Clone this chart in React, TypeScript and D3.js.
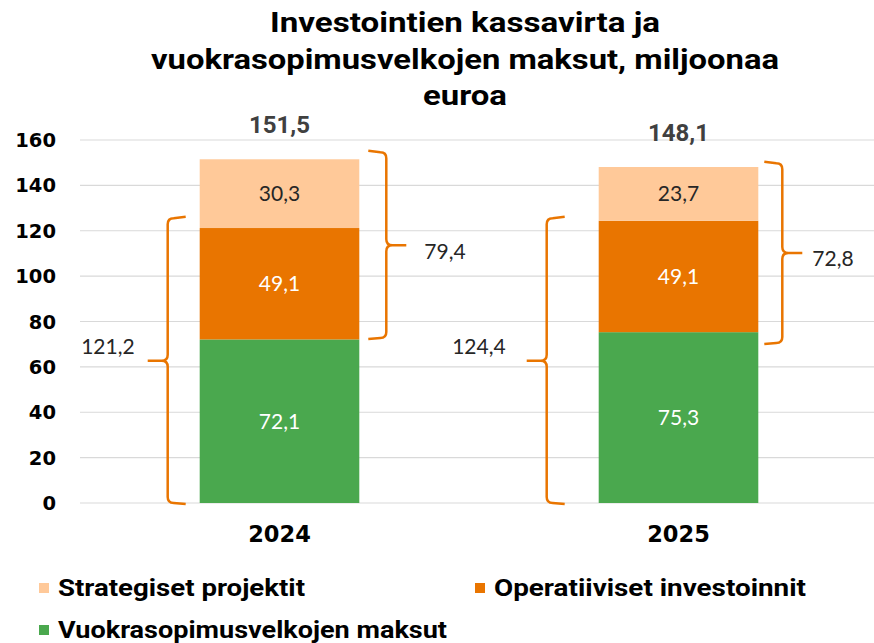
import React from "react";
import * as d3 from "d3";

const years = ["2024", "2025"];
const seriesNames = ["Vuokrasopimusvelkojen maksut", "Operatiiviset investoinnit", "Strategiset projektit"];
const leaseValues = [72.1, 75.3];
const operativeValues = [49.1, 49.1];
const strategicValues = [30.3, 23.7];
const totalLabels = ["151,5", "148,1"];
const yTicks = [0, 20, 40, 60, 80, 100, 120, 140, 160];
const titleLines = ["Investointien kassavirta ja", "vuokrasopimusvelkojen maksut, miljoonaa", "euroa"];
// bracket annotations: [from, to] in value units and their labels
const leftBracketSpans = [[0, 125.5], [0, 125.5]];
const leftBracketLabels = ["121,2", "124,4"];
const rightBracketSpans = [[72.7, 154.6], [70.5, 149.8]];
const rightBracketLabels = ["79,4", "72,8"];

const COLORS = ["#4AA84E", "#E97500", "#FFC999"];
const LABEL_COLORS = ["#ffffff", "#ffffff", "#262626"];
const BRACKET = "#E97500";

// layout offsets for brackets relative to bar edges
const leftOffsets = [32, 52];
const rightOffsets = [27, 24];
const leftLabelGap = [33, 41];
const rightLabelGap = [38, 30];
const titleWidths = [390, 628, 84];
const legendWidths = [389, 312, 247];

const W = 874;
const H = 643;

function fmt(v: number) {
  return v.toFixed(1).replace(".", ",");
}

function bracePath(xv: number, yTop: number, yBot: number, dir: number) {
  const e = -dir;
  const yMid = (yTop + yBot) / 2;
  const arm = 18;
  const r = 6;
  return [
    `M ${xv + e * arm} ${yTop - 1.5}`,
    `L ${xv + e * r} ${yTop}`,
    `Q ${xv} ${yTop} ${xv} ${yTop + r}`,
    `L ${xv} ${yMid - r}`,
    `Q ${xv} ${yMid} ${xv + dir * r} ${yMid}`,
    `L ${xv + dir * 20} ${yMid}`,
    `M ${xv + dir * r} ${yMid}`,
    `Q ${xv} ${yMid} ${xv} ${yMid + r}`,
    `L ${xv} ${yBot - r}`,
    `Q ${xv} ${yBot} ${xv + e * r} ${yBot}`,
    `L ${xv + e * arm} ${yBot + 1}`,
  ].join(" ");
}

export default function App() {
  const y = d3.scaleLinear().domain([0, 160]).range([503, 140]);
  const x = d3.scaleBand().domain(years).range([80, 878]).paddingInner(0.6).paddingOuter(0.3);
  const bw = x.bandwidth();

  const rows = years.map((yr, i) => ({
    year: yr,
    lease: leaseValues[i],
    oper: operativeValues[i],
    strat: strategicValues[i],
  }));
  const stack = d3.stack<any>().keys(["lease", "oper", "strat"])(rows);

  const fontTitle = "Roboto, 'DejaVu Sans', sans-serif";
  const fontNum = "Lato, 'Open Sans', sans-serif";
  const fontWide = "'DejaVu Sans', Verdana, sans-serif";

  return (
    <svg width={W} height={H} style={{ position: "absolute", left: 0, top: 0, background: "#fff" }}>
      {/* title */}
      <g fontFamily={fontTitle} fontWeight={700} fontSize={28} fill="#000" textAnchor="middle">
        {titleLines.map((t, i) => (
          <text
            key={i}
            x={465}
            y={32 + i * 36.5}
            textLength={titleWidths[i]}
            lengthAdjust="spacingAndGlyphs"
          >
            {t}
          </text>
        ))}
      </g>

      {/* grid */}
      {yTicks.map((t) => (
        <line key={t} x1={80} x2={874} y1={y(t)} y2={y(t)} stroke="#d9d9d9" strokeWidth={1.2} />
      ))}
      {/* y tick labels */}
      <g fontFamily={fontWide} fontWeight={700} fontSize={19.5} fill="#000" textAnchor="end">
        {yTicks.map((t) => (
          <text key={t} x={56} y={y(t)} dy="0.36em">
            {t}
          </text>
        ))}
      </g>

      {/* bars */}
      {stack.map((s, si) => (
        <g key={si}>
          {s.map((d, i) => {
            const x0 = x(years[i])!;
            const top = y(d[1]);
            const bot = y(d[0]);
            return (
              <g key={i}>
                <rect x={x0} y={top} width={bw} height={bot - top} fill={COLORS[si]} />
                <text
                  x={x0 + bw / 2}
                  y={(top + bot) / 2}
                  dy="0.35em"
                  textAnchor="middle"
                  fontFamily={fontNum}
                  fontSize={21}
                  fontWeight={400}
                  fill={LABEL_COLORS[si]}
                >
                  {fmt(d[1] - d[0])}
                </text>
              </g>
            );
          })}
        </g>
      ))}

      {/* totals */}
      {rows.map((r, i) => (
        <text
          key={i}
          x={x(years[i])! + bw / 2}
          y={y(r.lease + r.oper + r.strat) - 35}
          dy="0.36em"
          textAnchor="middle"
          fontFamily={fontTitle}
          fontWeight={700}
          fontSize={24}
          fill="#404040"
        >
          {totalLabels[i]}
        </text>
      ))}

      {/* x labels */}
      {years.map((yr) => (
        <text
          key={yr}
          x={x(yr)! + bw / 2}
          y={534}
          dy="0.36em"
          textAnchor="middle"
          fontFamily={fontWide}
          fontWeight={700}
          fontSize={22.5}
          fill="#000"
        >
          {yr}
        </text>
      ))}

      {/* brackets */}
      {years.map((yr, i) => {
        const x0 = x(yr)!;
        const xvL = x0 - leftOffsets[i];
        const xvR = x0 + bw + rightOffsets[i];
        const [la, lb] = leftBracketSpans[i];
        const [ra, rb] = rightBracketSpans[i];
        const lTop = y(lb),
          lBot = y(la);
        const rTop = y(rb),
          rBot = y(ra);
        return (
          <g key={yr}>
            <path d={bracePath(xvL, lTop, lBot, -1)} fill="none" stroke={BRACKET} strokeWidth={2.5} />
            <path d={bracePath(xvR, rTop, rBot, 1)} fill="none" stroke={BRACKET} strokeWidth={2.5} />
            <text
              x={xvL - leftLabelGap[i]}
              y={(lTop + lBot) / 2 - 14}
              dy="0.35em"
              textAnchor="end"
              fontFamily={fontNum}
              fontSize={21}
              fill="#262626"
            >
              {leftBracketLabels[i]}
            </text>
            <text
              x={xvR + rightLabelGap[i]}
              y={(rTop + rBot) / 2 + 6}
              dy="0.35em"
              textAnchor="start"
              fontFamily={fontNum}
              fontSize={21}
              fill="#262626"
            >
              {rightBracketLabels[i]}
            </text>
          </g>
        );
      })}

      {/* legend */}
      <g fontFamily={fontTitle} fontWeight={700} fontSize={23} fill="#000">
        {[
          { name: seriesNames[2], color: COLORS[2], lx: 39, ly: 588, w: legendWidths[2] },
          { name: seriesNames[1], color: COLORS[1], lx: 475, ly: 588, w: legendWidths[1] },
          { name: seriesNames[0], color: COLORS[0], lx: 39, ly: 630, w: legendWidths[0] },
        ].map((l) => (
          <g key={l.name}>
            <rect x={l.lx} y={l.ly - 5} width={10} height={10} fill={l.color} />
            <text x={l.lx + 19} y={l.ly} dy="0.36em" textLength={l.w} lengthAdjust="spacingAndGlyphs">
              {l.name}
            </text>
          </g>
        ))}
      </g>
    </svg>
  );
}
